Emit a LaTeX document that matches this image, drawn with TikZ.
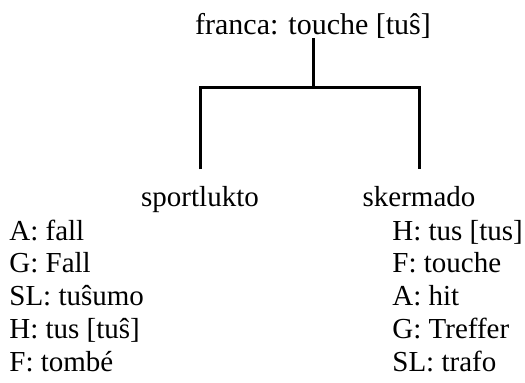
\documentclass[tikz,border=0pt]{standalone}
\usepackage{fontspec}
\setmainfont{Liberation Serif}

\begin{document}
\begin{tikzpicture}[x=0.5pt,y=-0.5pt,
    every node/.style={inner sep=0pt,font=\fontsize{14.5}{17}\selectfont},
    word/.style={anchor=base},
    entry/.style={anchor=base west},
    branch/.style={line width=1.5pt}]
\useasboundingbox (0,0) rectangle (525,382);

\node[word,font=\fontsize{15}{18}\selectfont] (franca) at (313,34) {franca: touche [tuŝ]};
\node[word] (sport) at (200,206) {sportlukto};
\node[word] (skerm) at (419,206) {skermado};

% the fork
\coordinate (fork) at (franca.south |- 0,87);
\draw[branch] (franca.south) -- (fork);
\draw[branch] ([yshift=8pt]sport.north) |- (fork) -| ([yshift=8pt]skerm.north);

% words under each branch
\foreach \txt [count=\i] in {A: fall, G: Fall, SL: tuŝumo, H: tus [tuŝ], F: tombé}
  \node[entry] (sport\i) at (9,{240+32.8*(\i-1)}) {\txt};
\foreach \txt [count=\i] in {H: tus [tus], F: touche, A: hit, G: Treffer, SL: trafo}
  \node[entry] (skerm\i) at (392,{240+32.8*(\i-1)}) {\txt};
\end{tikzpicture}
\end{document}
